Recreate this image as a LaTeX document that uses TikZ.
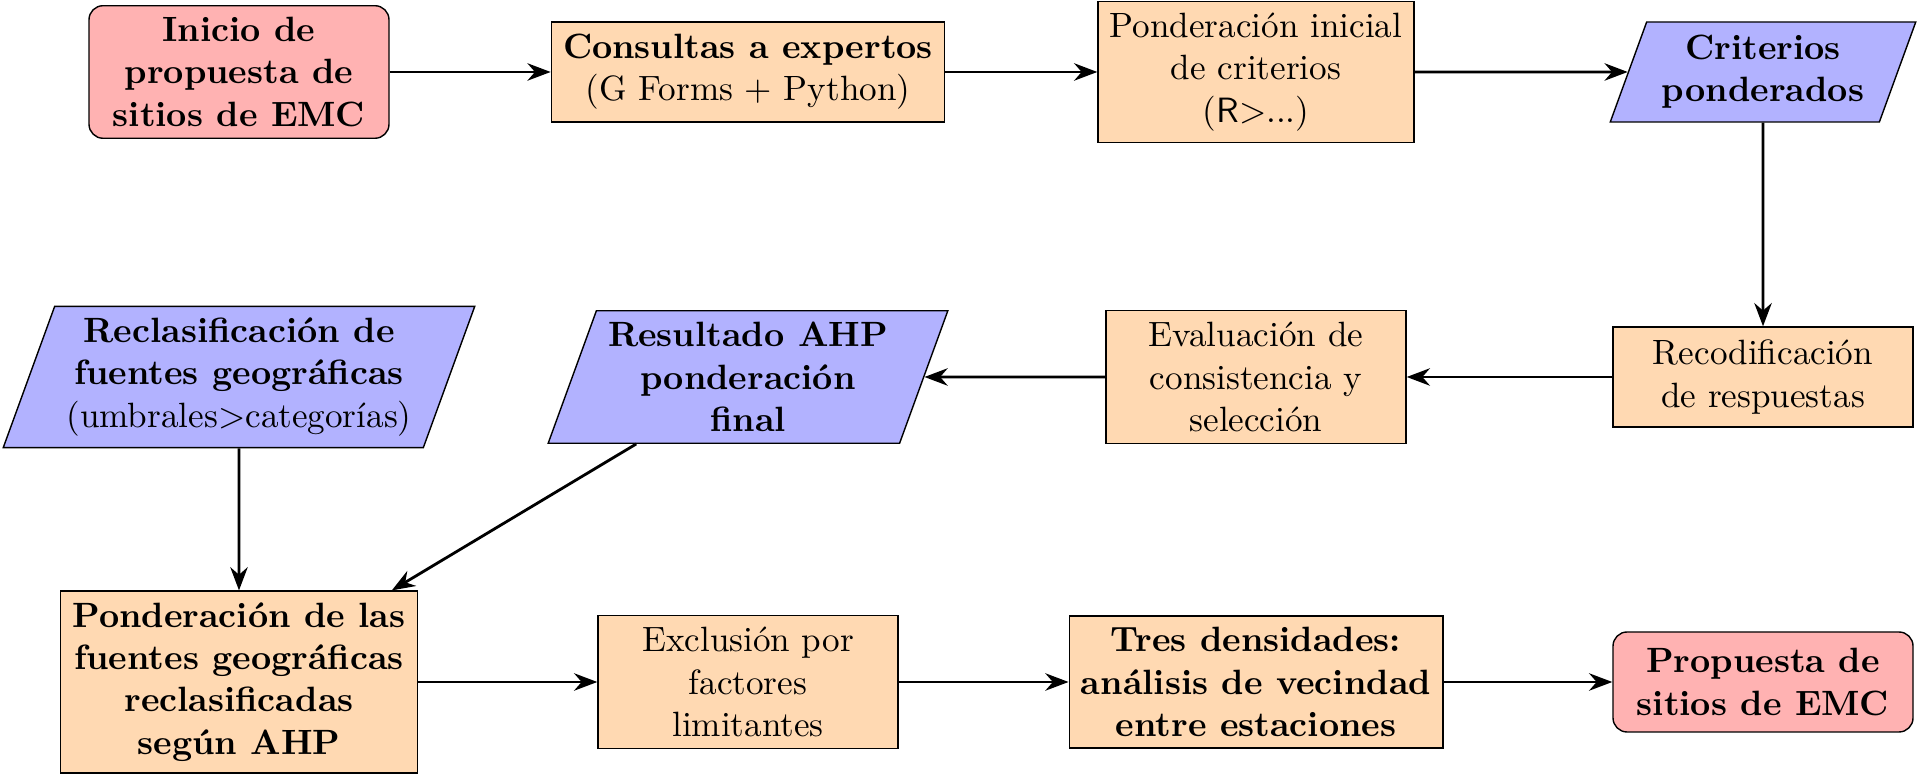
\documentclass[tikz,border=0pt]{standalone}
\usepackage{tikz}
\usetikzlibrary{arrows.meta,shapes.geometric}

\begin{document}
\begin{tikzpicture}[
    inicio/.style={rectangle, rounded corners, minimum width=3cm, minimum height=1cm, align=center, draw=black, fill=red!30},
    proceso/.style={rectangle, minimum width=3cm, minimum height=1cm, align=center, draw=black, fill=orange!30},
    datos/.style={trapezium, trapezium left angle=70, trapezium right angle=110, minimum width=3cm, minimum height=1cm, align=center, draw=black, fill=blue!30},
    flecha/.style={thick, -{Stealth}}]
  % parameters
  \def\ca{2.39}      % column 1
  \def\cb{7.48}      % column 2
  \def\cc{12.56}     % column 3
  \def\cd{17.63}     % column 4
  \def\fa{-0.72}     % row 1
  \def\fb{-3.77}     % row 2
  \def\fc{-6.82}     % row 3

  \useasboundingbox (0,0) rectangle (19.2,-7.75);

  % row 1
  \node (ini) [inicio] at (\ca,\fa) {\bfseries Inicio de\\ \bfseries propuesta de\\ \bfseries sitios de EMC};
  \node (cons) [proceso] at (\cb,\fa) {\bfseries Consultas a expertos\\ (G Forms + Python)};
  \node (pini) [proceso] at (\cc,\fa) {Ponderación inicial\\ de criterios\\ (\textsf{R>}...)};
  \node (crit) [datos] at (\cd,\fa) {\bfseries Criterios\\ \bfseries ponderados};

  % row 2
  \node (recod) [proceso] at (\cd,\fb) {Recodificación\\ de respuestas};
  \node (eval) [proceso] at (\cc,\fb) {Evaluación de\\ consistencia y\\ selección};
  \node (res) [datos] at (\cb,\fb) {\bfseries Resultado AHP\\ \bfseries ponderación\\ \bfseries final};
  \node (recl) [datos] at (\ca,\fb) {\bfseries Reclasificación de\\ \bfseries fuentes geográficas\\ (umbrales>categorías)};

  % row 3
  \node (pond) [proceso] at (\ca,\fc) {\bfseries Ponderación de las\\ \bfseries fuentes geográficas\\ \bfseries reclasificadas\\ \bfseries según AHP};
  \node (excl) [proceso] at (\cb,\fc) {Exclusión por\\ factores\\ limitantes};
  \node (tres) [proceso] at (\cc,\fc) {\bfseries Tres densidades:\\ \bfseries análisis de vecindad\\ \bfseries entre estaciones};
  \node (prop) [inicio] at (\cd,\fc) {\bfseries Propuesta de\\ \bfseries sitios de EMC};

  % arrows
  \draw [flecha] (ini) -- (cons);
  \draw [flecha] (cons) -- (pini);
  \draw [flecha] (pini) -- (crit);
  \draw [flecha] (crit) -- (recod);
  \draw [flecha] (recod) -- (eval);
  \draw [flecha] (eval) -- (res);
  \draw [flecha] (res) -- (pond);
  \draw [flecha] (recl) -- (pond);
  \draw [flecha] (pond) -- (excl);
  \draw [flecha] (excl) -- (tres);
  \draw [flecha] (tres) -- (prop);
\end{tikzpicture}
\end{document}
